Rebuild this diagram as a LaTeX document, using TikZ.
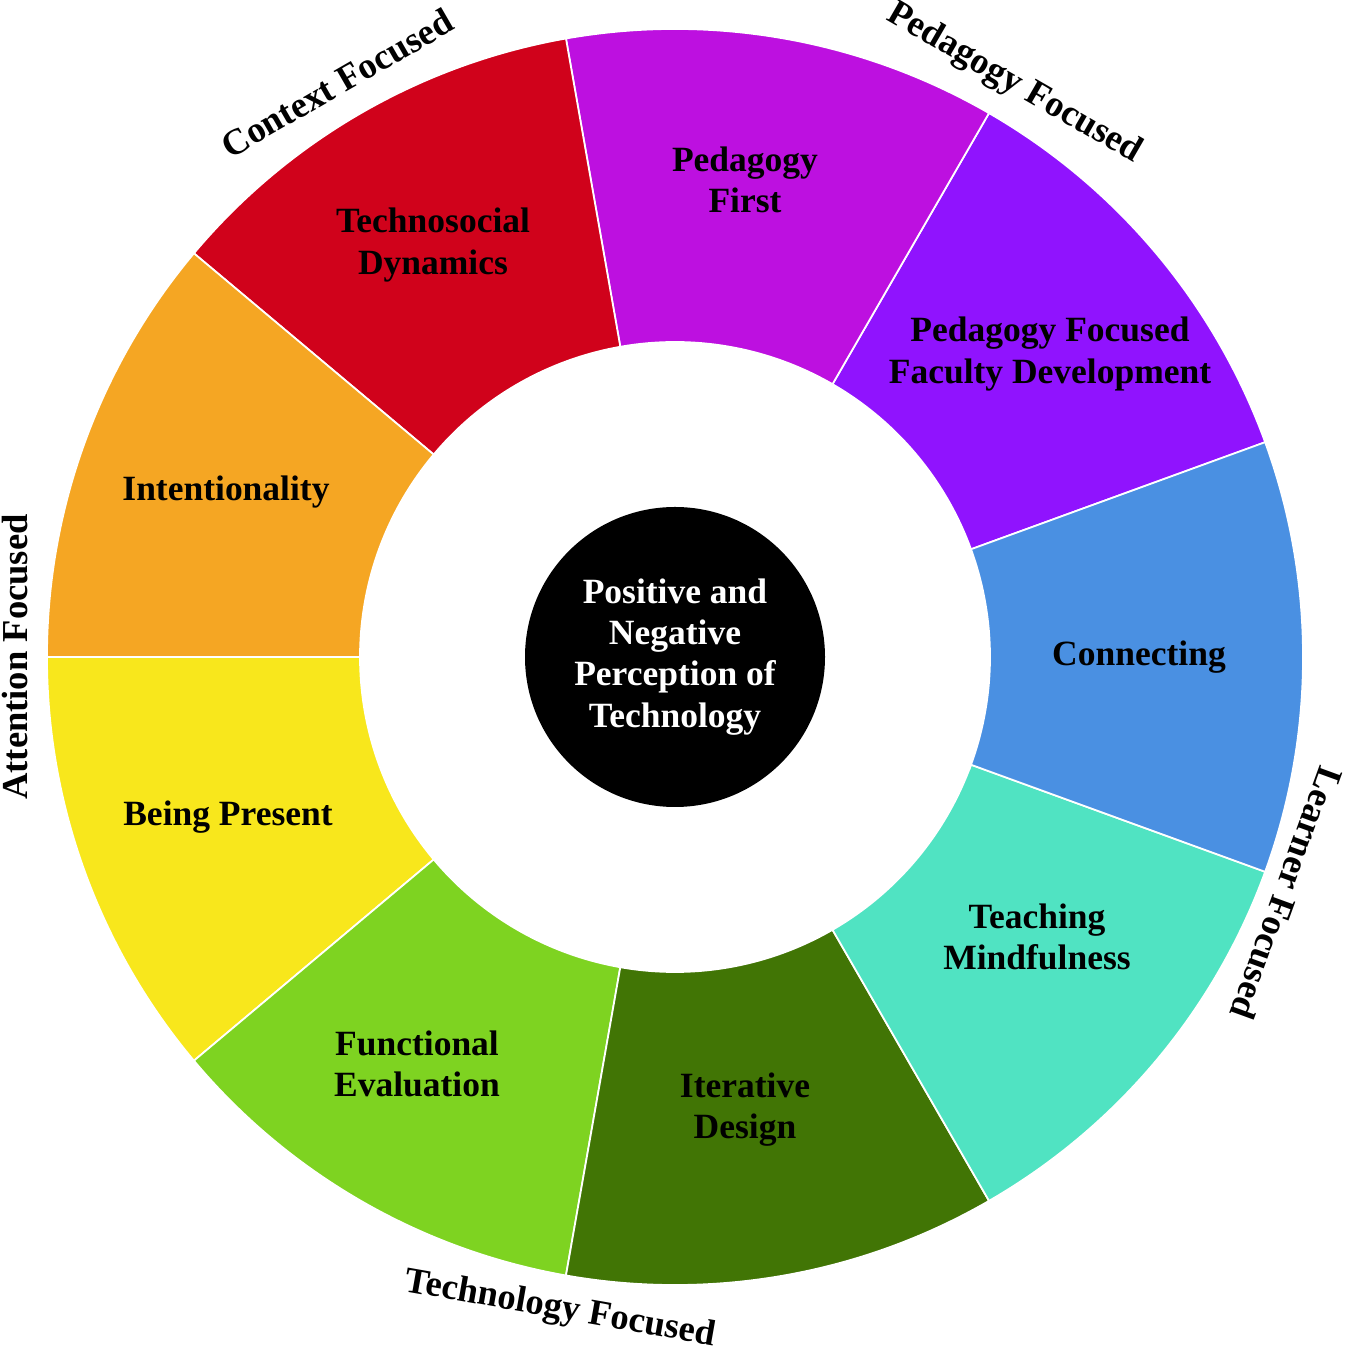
\documentclass[tikz,border=0pt]{standalone}
\usepackage{fontspec}
\setmainfont{Liberation Serif}
\usetikzlibrary{positioning}

\definecolor{pedpurple}{HTML}{9013FE}
\definecolor{pedmagenta}{HTML}{BD10E0}
\definecolor{ctxred}{HTML}{D0021B}
\definecolor{attorange}{HTML}{F5A623}
\definecolor{attyellow}{HTML}{F8E71C}
\definecolor{techgreen}{HTML}{7ED321}
\definecolor{techdark}{HTML}{417505}
\definecolor{lrnteal}{HTML}{50E3C2}
\definecolor{lrnblue}{HTML}{4A90E2}

\begin{document}
\begin{tikzpicture}[
seglabel/.style={align=center, text=black, font=\bfseries\fontsize{10.1}{11.7}\selectfont},
ringlabel/.style={inner sep=0pt, font=\bfseries\fontsize{10.4}{12}\selectfont},
hubnode/.style={circle, fill=black, minimum size=3cm, inner sep=0pt, text=white, align=center, font=\bfseries\fontsize{10.1}{11.7}\selectfont},
]
\useasboundingbox (-6.75,-6.98) rectangle (6.75,6.57);

%Segments
\foreach \a/\col in {20/pedpurple, 60/pedmagenta, 100/ctxred, 140/attorange, 180/attyellow, 220/techgreen, 260/techdark, 300/lrnteal, 340/lrnblue}
  \filldraw[fill=\col, draw=white, line width=0.5pt] (\a:3.15) -- (\a:6.28) arc[start angle=\a, delta angle=40, radius=6.28] -- ({\a+40}:3.15) arc[start angle=\a+40, delta angle=-40, radius=3.15] -- cycle;

%Nodes
\node[hubnode]  (hub)      at (0,0)          {Positive and\\Negative\\Perception of\\Technology};
\node[seglabel] (pedfac)   at (3.75,3.03)    {Pedagogy Focused\\Faculty Development};
\node[seglabel] (pedfirst) at (0.70,4.77)    {Pedagogy\\First};
\node[seglabel] (techsoc)  at (-2.42,4.12)   {Technosocial\\Dynamics};
\node[seglabel] (intent)   at (-4.49,1.65)   {Intentionality};
\node[seglabel] (present)  at (-4.47,-1.60)  {Being Present};
\node[seglabel] (funceval) at (-2.58,-4.07)  {Functional\\Evaluation};
\node[seglabel] (iterdes)  at (0.70,-4.53)   {Iterative\\Design};
\node[seglabel] (teachmin) at (3.62,-2.80)   {Teaching\\Mindfulness};
\node[seglabel] (connect)  at (4.64,0)       {Connecting};

%Ring labels
\node[ringlabel, rotate=30]   (context)  at (120.5:6.66) {Context Focused};
\node[ringlabel, rotate=-30]  (pedfoc)   at (59.4:6.66)  {Pedagogy Focused};
\node[ringlabel, rotate=-110] (learner)  at (-21.1:6.56) {Learner Focused};
\node[ringlabel, rotate=-10]  (techfoc)  at (-100:6.63)  {Technology Focused};
\node[ringlabel, rotate=90]   (attfoc)   at (180:6.60)   {Attention Focused};
\end{tikzpicture}
\end{document}
